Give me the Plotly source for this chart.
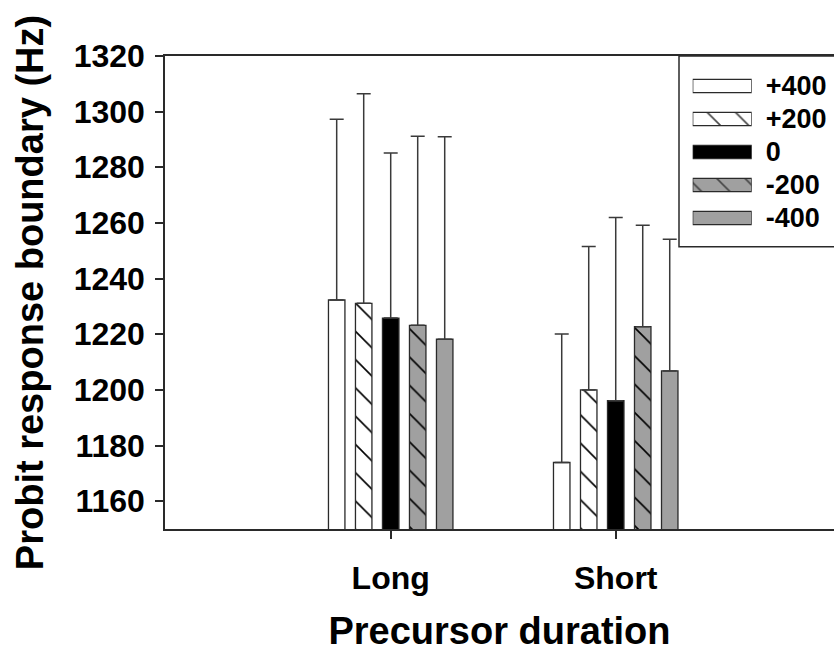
import plotly.graph_objects as go

categories = ["Long", "Short"]
series_names = ["+400", "+200", "0", "-200", "-400"]
means = {
    "+400": [1232.3, 1173.9],
    "+200": [1231.1, 1200.0],
    "0":    [1225.8, 1196.1],
    "-200": [1223.2, 1222.7],
    "-400": [1218.2, 1206.8],
}
errors_up = {
    "+400": [65.0, 46.2],
    "+200": [75.3, 51.5],
    "0":    [59.3, 65.9],
    "-200": [68.0, 36.5],
    "-400": [72.8, 47.3],
}
y_ticks = [1160, 1180, 1200, 1220, 1240, 1260, 1280, 1300, 1320]

styles = {
    "+400": dict(color="white", shape=""),
    "+200": dict(color="white", shape="\\"),
    "0":    dict(color="black", shape=""),
    "-200": dict(color="#a0a0a0", shape="\\"),
    "-400": dict(color="#a0a0a0", shape=""),
}

FONT = "Liberation Sans, Arial, sans-serif"
LINE = "#2a2a2a"

fig = go.Figure()
for name in series_names:
    st = styles[name]
    fig.add_trace(go.Bar(
        name=name,
        x=categories,
        y=means[name],
        marker=dict(
            color=st["color"],
            line=dict(color=LINE, width=1.3),
            pattern=dict(shape=st["shape"], fgcolor="black", bgcolor=st["color"],
                         fgopacity=1, size=20, solidity=0.08, fillmode="overlay"),
        ),
        error_y=dict(type="data", symmetric=False, array=errors_up[name],
                     arrayminus=[0] * len(categories), color="#3a3a3a",
                     thickness=1.5, width=7),
        xaxis="x", yaxis="y",
    ))

# legend swatches drawn as an inset bar chart
fig.add_trace(go.Bar(
    y=series_names,
    x=[1] * len(series_names),
    orientation="h",
    marker=dict(
        color=[styles[n]["color"] for n in series_names],
        line=dict(color=LINE, width=1.3),
        pattern=dict(shape=[styles[n]["shape"] for n in series_names],
                     fgcolor="black",
                     bgcolor=[styles[n]["color"] for n in series_names],
                     fgopacity=1, size=20, solidity=0.08, fillmode="overlay"),
    ),
    xaxis="x2", yaxis="y2", hoverinfo="skip",
))

W, H = 834, 652
L, R, T, B = 165, 0, 56, 123
pw, ph = W - L - R, H - T - B

def px_x(x):
    return (x - L) / pw

def px_y(y):
    return (H - B - y) / ph

fig.add_shape(type="rect", xref="paper", yref="paper",
              x0=px_x(679), x1=px_x(840), y0=px_y(246.7), y1=1.0,
              line=dict(color=LINE, width=1.5), fillcolor="white", layer="below")

fig.update_layout(
    width=W, height=H,
    margin=dict(l=L, r=R, t=T, b=B, pad=0),
    paper_bgcolor="white", plot_bgcolor="white",
    showlegend=False,
    barmode="group", bargap=0.4, bargroupgap=0.39,
    font=dict(family=FONT, color="black"),
    xaxis=dict(
        range=[-1.003, 1.970], showline=True, linecolor=LINE, linewidth=1.5,
        mirror=True, ticks="outside", ticklen=8, tickwidth=1.5, tickcolor=LINE,
        tickfont=dict(size=32, weight="bold"), ticklabelstandoff=12,
        showgrid=False, zeroline=False,
        title=dict(text="Precursor duration", font=dict(size=38, weight="bold"), standoff=24),
    ),
    yaxis=dict(
        range=[1150, 1320], tickvals=y_ticks, showline=True, linecolor=LINE, linewidth=1.5,
        ticks="outside", ticklen=8, tickwidth=1.5, tickcolor=LINE,
        tickfont=dict(size=32, weight="bold"), ticklabelstandoff=4,
        showgrid=False, zeroline=False,
        title=dict(text="Probit response boundary (Hz)", font=dict(size=38, weight="bold"), standoff=18),
    ),
    xaxis2=dict(domain=[px_x(692.7), px_x(751.7)], range=[0, 1], anchor="y2",
                showline=False, showgrid=False, zeroline=False, showticklabels=False, ticks=""),
    yaxis2=dict(domain=[px_y(234.5), px_y(69.5)], anchor="x2", side="right",
                autorange="reversed", showline=False, showgrid=False, zeroline=False,
                ticks="", tickfont=dict(size=27, weight="bold"), ticklabelstandoff=13),
)
fig.update_traces(selector=dict(yaxis="y2"), width=0.4)

fig.write_html("out.html")
